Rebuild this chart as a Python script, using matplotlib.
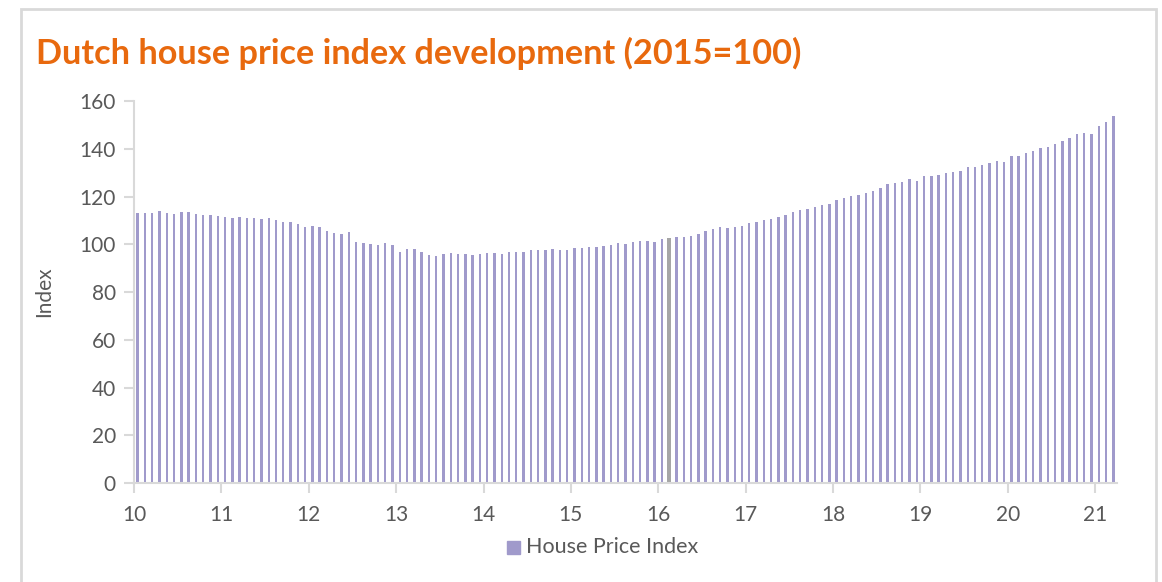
import numpy as np
import matplotlib.pyplot as plt
from matplotlib.patches import Rectangle

# monthly index, Jan 2010 - Mar 2021 (2015 = 100)
hpi = [
    113.0, 113.2, 113.1, 113.9, 113.1, 112.8, 113.5, 113.6, 112.8, 112.4, 112.1, 111.8,
    111.5, 111.1, 111.5, 111.1, 111.1, 110.7, 111.0, 110.3, 109.3, 109.3, 108.5, 107.2,
    107.6, 107.4, 105.6, 104.8, 104.2, 105.1, 101.1, 100.7, 100.1, 99.8, 100.5, 99.7,
    96.8, 98.0, 98.0, 96.6, 95.5, 95.1, 96.1, 96.2, 96.1, 95.9, 95.5, 96.1,
    96.3, 96.3, 96.1, 96.8, 96.7, 96.9, 97.7, 97.7, 97.6, 97.9, 97.6, 97.7,
    98.3, 98.6, 98.7, 99.0, 99.4, 99.7, 100.4, 100.3, 101.1, 101.4, 101.4, 100.9,
    102.2, 102.8, 102.9, 103.0, 103.6, 104.1, 105.4, 106.3, 107.1, 106.8, 107.4, 107.8,
    108.8, 109.2, 110.3, 110.7, 111.5, 112.4, 113.5, 114.5, 114.8, 115.6, 116.3, 116.7,
    118.4, 119.5, 120.1, 120.6, 121.6, 122.4, 123.6, 125.2, 125.8, 126.1, 127.3, 126.5,
    128.7, 128.6, 129.1, 129.8, 130.4, 130.7, 132.4, 132.4, 133.3, 134.0, 134.7, 134.6,
    136.8, 137.0, 138.2, 139.2, 140.2, 140.7, 142.1, 143.2, 144.6, 146.2, 146.7, 146.0,
    149.7, 151.2, 153.7,
]
year_labels = ["10", "11", "12", "13", "14", "15", "16", "17", "18", "19", "20", "21"]
highlight = 73  # Feb 2016

purple = "#A09ACB"
grey_txt = "#595959"
line_col = "#D9D9D9"

plt.rcParams["font.family"] = ["Lato", "DejaVu Sans"]

fig = plt.figure(figsize=(11.62, 5.82), dpi=100)
fig.patches.append(Rectangle((21 / 1162, -0.05), (1156 - 21) / 1162, 1.05 - 9 / 582,
                             transform=fig.transFigure, fill=False,
                             edgecolor=line_col, linewidth=2))

ax = fig.add_axes([134 / 1162, (582 - 483) / 582, (1117 - 134) / 1162, 382 / 582])

x = np.arange(len(hpi))
colors = [purple] * len(hpi)
colors[highlight] = "#A6A6A6"
widths = [0.33] * len(hpi)
widths[highlight] = 0.55
ax.bar(x, hpi, width=widths, color=colors)

ax.set_xlim(-0.5, len(hpi) - 0.5)
ax.set_ylim(0, 160)
ax.set_yticks(np.arange(0, 161, 20))
ax.set_xticks(np.arange(len(year_labels)) * 12 - 0.5)
ax.set_xticklabels(year_labels)

for side in ["top", "right"]:
    ax.spines[side].set_visible(False)
for side in ["left", "bottom"]:
    ax.spines[side].set_color(line_col)
    ax.spines[side].set_linewidth(1.5)
ax.tick_params(axis="both", colors=line_col, length=7, width=1.5,
               labelcolor=grey_txt, labelsize=15)
ax.tick_params(axis="y", pad=6)
ax.tick_params(axis="x", pad=9)

ax.set_ylabel("Index", color=grey_txt, fontsize=15, labelpad=18)

fig.text(36 / 1162, 1 - 64 / 582, "Dutch house price index development (2015=100)",
         color="#E8690E", fontsize=24.7, fontweight="bold", va="baseline", ha="left")

# legend
fig.patches.append(Rectangle((507 / 1162, 1 - 554 / 582), 13 / 1162, 13 / 582,
                             transform=fig.transFigure, color=purple))
fig.text(526 / 1162, 1 - 547 / 582, "House Price Index", color=grey_txt,
         fontsize=15.5, va="center", ha="left")

fig.savefig("out.png", dpi=100)
